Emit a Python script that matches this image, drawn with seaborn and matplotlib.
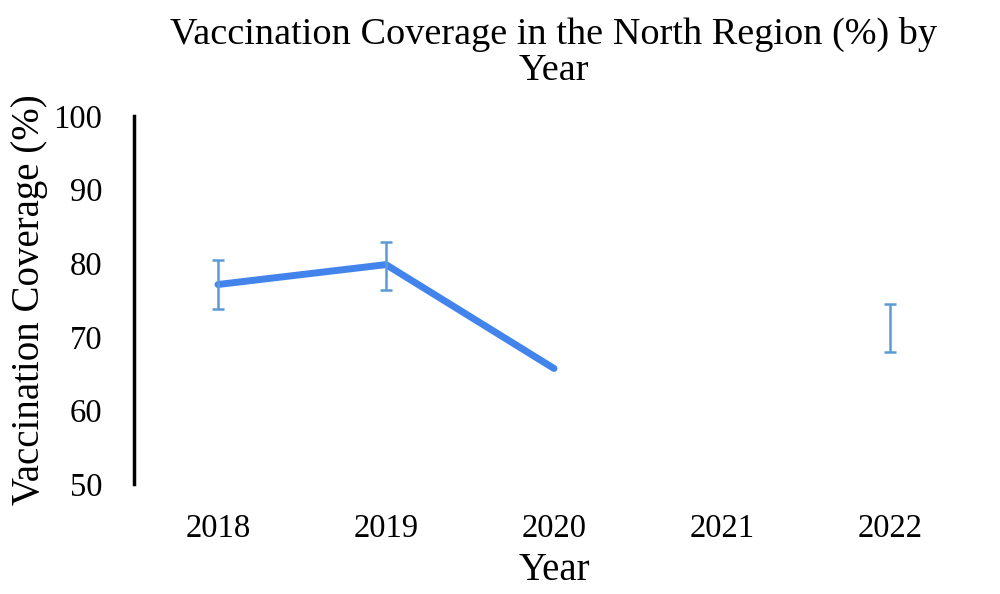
import numpy as np
import pandas as pd
import matplotlib
matplotlib.use("Agg")
import matplotlib.pyplot as plt
import seaborn as sns

years = ["2018", "2019", "2020", "2021", "2022"]
coverage = [77.1, 79.8, 65.7, np.nan, 71.3]
err_low = [73.8, 76.4, np.nan, np.nan, 68.0]
err_high = [80.4, 82.9, np.nan, np.nan, 74.5]

df = pd.DataFrame({"year": years, "coverage": coverage,
                   "lo": err_low, "hi": err_high})
df["pos"] = np.arange(len(years))
# break the line where a value is missing
df["seg"] = df["coverage"].isna().cumsum()

sns.set_theme(style="white")
plt.rcParams["font.family"] = ["Liberation Serif", "DejaVu Serif"]
plt.rcParams["text.color"] = "black"
plt.rcParams["axes.labelcolor"] = "black"
plt.rcParams["xtick.color"] = "black"
plt.rcParams["ytick.color"] = "black"

fig, ax = plt.subplots(figsize=(10, 5.94), dpi=100)
fig.subplots_adjust(left=0.134, right=0.974, bottom=0.185, top=0.805)

sns.lineplot(data=df.dropna(subset=["coverage"]), x="pos", y="coverage",
             units="seg", estimator=None, color="#4384ec", linewidth=5,
             solid_capstyle="round", ax=ax)

eb = df.dropna(subset=["lo"])
mid = (eb["lo"] + eb["hi"]) / 2
ax.errorbar(eb["pos"], mid, yerr=[mid - eb["lo"], eb["hi"] - mid],
            fmt="none", ecolor="#5b9bd5", elinewidth=1.8, capsize=4,
            capthick=1.8)

ax.set_xlim(-0.5, len(years) - 0.5)
ax.set_ylim(50, 100)
ax.set_xticks(df["pos"])
ax.set_xticklabels(years)
ax.set_yticks(range(50, 101, 10))
ax.tick_params(axis="both", labelsize=23.5, length=0)
ax.tick_params(axis="x", pad=21)
ax.tick_params(axis="y", pad=23)

for s in ["top", "right", "bottom"]:
    ax.spines[s].set_visible(False)
ax.spines["left"].set_color("black")
ax.spines["left"].set_linewidth(2.5)

ax.set_title("Vaccination Coverage in the North Region (%) by\nYear",
             fontsize=27.5, pad=26, linespacing=1.05)
ax.set_xlabel("Year", fontsize=28, labelpad=6)
ax.set_ylabel("Vaccination Coverage (%)", fontsize=28, labelpad=4)

fig.savefig("out.png", dpi=100)
